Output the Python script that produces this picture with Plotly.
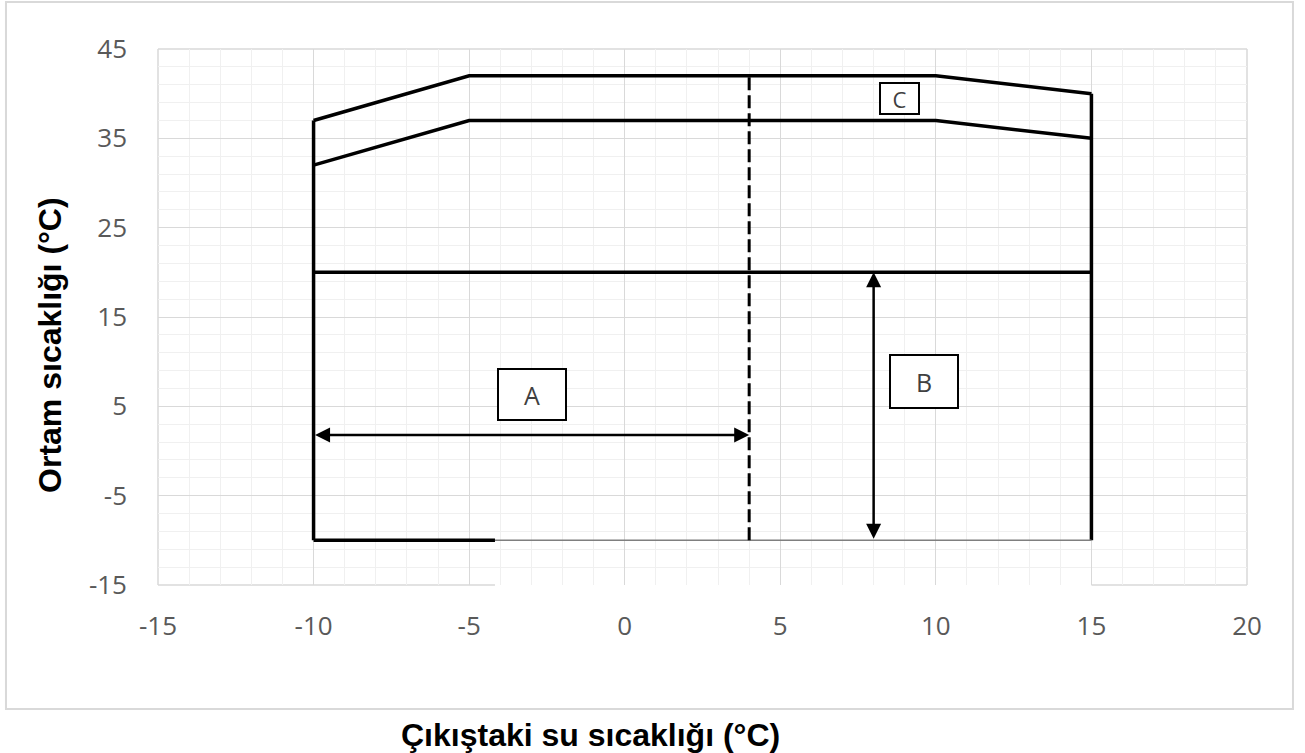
import plotly.graph_objects as go

# ---- data ----
upper_x = [-10, -5, 10, 15]
upper_y = [37, 42, 42, 40]
lower_x = [-10, -5, 10, 15]
lower_y = [32, 37, 37, 35]
left_edge_x = [-10, -10]
left_edge_y = [-10, 37]
right_edge_x = [15, 15]
right_edge_y = [-10, 40]
mid_x = [-10, 15]
mid_y = [20, 20]
bottom_thick_x = [-10, -4.17]
bottom_thick_y = [-10, -10]
bottom_thin_x = [-4.17, 15]
bottom_thin_y = [-10, -10]
dashed_x = [4, 4]
dashed_y = [-10, 42]

arrow_a = dict(x0=-10, x1=4, y=1.8)
arrow_b = dict(x=8, y0=-10, y1=20)

labels = ["A", "B", "C"]
label_x = [-2.97, 9.63, 8.83]
label_y = [6.3, 7.77, 39.5]

x_range = [-15, 20]
y_range = [-15, 45]
x_ticks = [-15, -10, -5, 0, 5, 10, 15, 20]
x_tick_text = ["-15", "-10", "-5", "0", "5", "10", "15", "20"]
y_ticks = [-15, -5, 5, 15, 25, 35, 45]
y_tick_text = ["-15", "-5", "5", "15", "25", "35", "45"]
mask_x = [-4.17, 15]

x_title = "Çıkıştaki su sıcaklığı (°C)"
y_title = "Ortam sıcaklığı (°C)"

# ---- figure ----
fig = go.Figure()

def line(x, y, width=3.5, color="black", dash=None):
    fig.add_trace(go.Scatter(x=x, y=y, mode="lines", hoverinfo="skip",
                             line=dict(color=color, width=width, dash=dash),
                             showlegend=False))

line(upper_x, upper_y)
line(lower_x, lower_y)
line(left_edge_x, left_edge_y)
line(right_edge_x, right_edge_y)
line(mid_x, mid_y)
line(bottom_thick_x, bottom_thick_y)
line(bottom_thin_x, bottom_thin_y, width=1.5, color="#7f7f7f")
line(dashed_x, dashed_y, width=3, dash="13px,5px")

annotations = []
# arrows
arrow_style = dict(xref="x", yref="y", axref="x", ayref="y", text="",
                   showarrow=True, arrowside="end+start", arrowhead=2, startarrowhead=2,
                   arrowwidth=2.5, arrowsize=1.2, startarrowsize=1.2, arrowcolor="black",
                   standoff=0, startstandoff=0)
annotations.append(dict(x=arrow_a["x1"], y=arrow_a["y"], ax=arrow_a["x0"], ay=arrow_a["y"], **arrow_style))
annotations.append(dict(x=arrow_b["x"], y=arrow_b["y1"], ax=arrow_b["x"], ay=arrow_b["y0"], **arrow_style))
# label boxes
box_sizes = [(66, 49, 25), (66, 51, 25), (37, 29, 22)]
for t, bx, by, (w, h, fs) in zip(labels, label_x, label_y, box_sizes):
    annotations.append(dict(x=bx, y=by, xref="x", yref="y", text=t, showarrow=False,
                            width=w, height=h, bgcolor="white", bordercolor="black",
                            borderwidth=2, borderpad=0,
                            font=dict(family="Open Sans", size=fs, color="#404040")))
# axis titles
annotations.append(dict(x=0.3967, y=-0.2799, xref="paper", yref="paper", text=f"<b>{x_title}</b>",
                        showarrow=False, xanchor="center", yanchor="middle",
                        font=dict(family="Liberation Sans, Arial", size=32, color="black")))
annotations.append(dict(x=-0.0992, y=0.4478, xref="paper", yref="paper", text=f"<b>{y_title}</b>",
                        showarrow=False, xanchor="center", yanchor="middle", textangle=-90,
                        font=dict(family="Liberation Sans, Arial", size=32, color="black")))

y_at_minus10 = (-10 - y_range[0]) / (y_range[1] - y_range[0])
border = dict(color="#d9d9d9", width=1.5)
shapes = [
    # white mask below the bottom boundary
    dict(type="rect", xref="x", yref="paper", x0=mask_x[0], x1=mask_x[1],
         y0=-0.02, y1=y_at_minus10, fillcolor="white", line=dict(width=0), layer="between"),
    # plot-area border pieces
    dict(type="line", xref="paper", yref="paper", x0=0, x1=0, y0=0, y1=1, line=border, layer="between"),
    dict(type="line", xref="paper", yref="paper", x0=1, x1=1, y0=0, y1=1, line=border, layer="between"),
    dict(type="line", xref="paper", yref="paper", x0=0, x1=1, y0=1, y1=1, line=border, layer="between"),
    dict(type="line", xref="x", yref="paper", x0=x_range[0], x1=mask_x[0], y0=0, y1=0, line=border, layer="between"),
    dict(type="line", xref="x", yref="paper", x0=mask_x[1], x1=x_range[1], y0=0, y1=0, line=border, layer="between"),
    # outer chart border
    dict(type="rect", xref="paper", yref="paper", x0=-0.1396, x1=1.0422, y0=-0.2313, y1=1.0877,
         line=dict(color="#d9d9d9", width=2), fillcolor="rgba(0,0,0,0)", layer="below"),
]

fig.update_layout(
    width=1305, height=753,
    margin=dict(l=158, r=58, t=49, b=168, pad=0),
    paper_bgcolor="white", plot_bgcolor="white",
    showlegend=False,
    annotations=annotations, shapes=shapes,
    xaxis=dict(range=x_range, tickvals=x_ticks, ticktext=x_tick_text,
               showgrid=True, gridcolor="#d9d9d9", gridwidth=1,
               zeroline=False, showline=False, ticks="", ticklabelstandoff=23,
               tickfont=dict(family="Open Sans", size=26, color="#595959"),
               minor=dict(dtick=1, tick0=0, showgrid=True, gridcolor="#f0f0f0", gridwidth=1)),
    yaxis=dict(range=y_range, tickvals=y_ticks, ticktext=y_tick_text,
               showgrid=True, gridcolor="#d9d9d9", gridwidth=1,
               zeroline=False, showline=False, ticks="", ticklabelstandoff=30,
               tickfont=dict(family="Open Sans", size=26, color="#595959"),
               minor=dict(dtick=2, tick0=-15, showgrid=True, gridcolor="#f0f0f0", gridwidth=1)),
)

# remove the default page margin so the figure sits at the window's top-left corner
fig.write_html("out.html", config={"displayModeBar": False},
               post_script="document.body.style.margin='0';")
